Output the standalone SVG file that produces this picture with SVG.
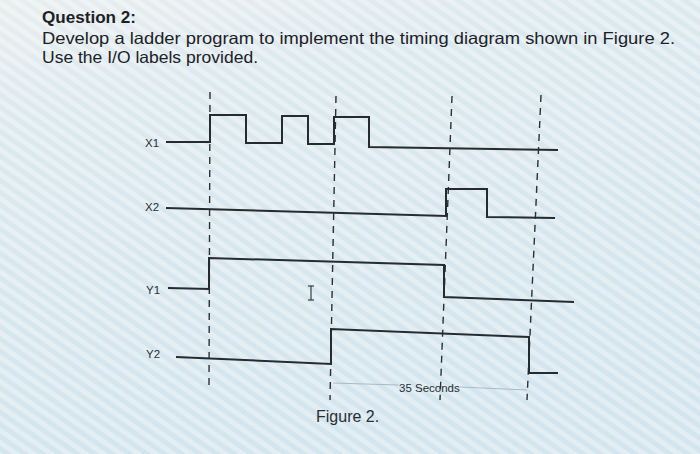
<svg xmlns="http://www.w3.org/2000/svg" width="700" height="454" viewBox="0 0 700 454">
<defs>
<linearGradient id="bg" x1="0" y1="0" x2="0.3" y2="1">
<stop offset="0" stop-color="#e9eeee"/>
<stop offset="0.25" stop-color="#dce9ef"/>
<stop offset="1" stop-color="#d3e5ee"/>
</linearGradient>
<pattern id="moire" width="10" height="10" patternUnits="userSpaceOnUse" patternTransform="rotate(35)">
<rect width="10" height="5" fill="#ffffff" opacity="0.35"/>
</pattern>
<style>
.title{font-family:"Liberation Sans",Arial,sans-serif;font-size:16.5px;fill:#1d2127}
.lbl{font-family:"Liberation Sans",Arial,sans-serif;font-size:11.5px;fill:#2a2e34}
.wave{fill:none;stroke:#262a31;stroke-width:2;stroke-linejoin:miter}
.dash{fill:none;stroke:#2b2f36;stroke-width:1.4;stroke-dasharray:7 6}
.dim{fill:none;stroke:#a8bcc6;stroke-width:1}
</style>
</defs>
<rect width="700" height="454" fill="url(#bg)"/>
<rect width="700" height="454" fill="url(#moire)"/>

<g id="title">
<text class="title" x="42" y="23" font-weight="bold" textLength="94" lengthAdjust="spacingAndGlyphs">Question 2:</text>
<text class="title" x="42" y="44" textLength="633" lengthAdjust="spacingAndGlyphs">Develop a ladder program to implement the timing diagram shown in Figure 2.</text>
<text class="title" x="42" y="63" textLength="216" lengthAdjust="spacingAndGlyphs">Use the I/O labels provided.</text>
</g>

<g id="connectors">
<line class="dash" x1="210" y1="92" x2="209" y2="386"/>
<line class="dash" x1="336" y1="96" x2="330" y2="400"/>
<line class="dash" x1="452" y1="96" x2="440" y2="400"/>
<line class="dash" x1="541" y1="95" x2="527" y2="400"/>
<line class="dim" x1="333" y1="383" x2="398" y2="385"/>
<line class="dim" x1="460" y1="387" x2="527" y2="390"/>
</g>

<g id="X1">
<text class="lbl" x="145" y="147">X1</text>
<polyline class="wave" points="166,142 210,142 210,115 246,115 246,143 282,143 282,116 308,116 308,144 334,144 334,117 369,117 369,147 558,150"/>
</g>

<g id="X2">
<text class="lbl" x="145" y="211">X2</text>
<polyline class="wave" points="166,208 446,216 446,189 487,189 487,217 555,218"/>
</g>

<g id="Y1">
<text class="lbl" x="146" y="294">Y1</text>
<polyline class="wave" points="168,288 209,289 209,258 444,265 444,297 574,302"/>
</g>

<g id="Y2">
<text class="lbl" x="146" y="358">Y2</text>
<polyline class="wave" points="176,357 331,364 331,329 529,337 529,373 558,373"/>
</g>

<g id="cursor" fill="none" stroke="#3a3e44" stroke-width="1.2">
<line x1="311" y1="286" x2="311" y2="300"/>
<line x1="308" y1="286" x2="314" y2="286"/>
<line x1="308" y1="300" x2="314" y2="300"/>
</g>

<g id="labels">
<text class="lbl" x="399" y="392" font-size="11px">35 Seconds</text>
<text x="316" y="422" font-family="Liberation Sans,Arial,sans-serif" font-size="16" fill="#2a2e34">Figure 2.</text>
</g>
</svg>
